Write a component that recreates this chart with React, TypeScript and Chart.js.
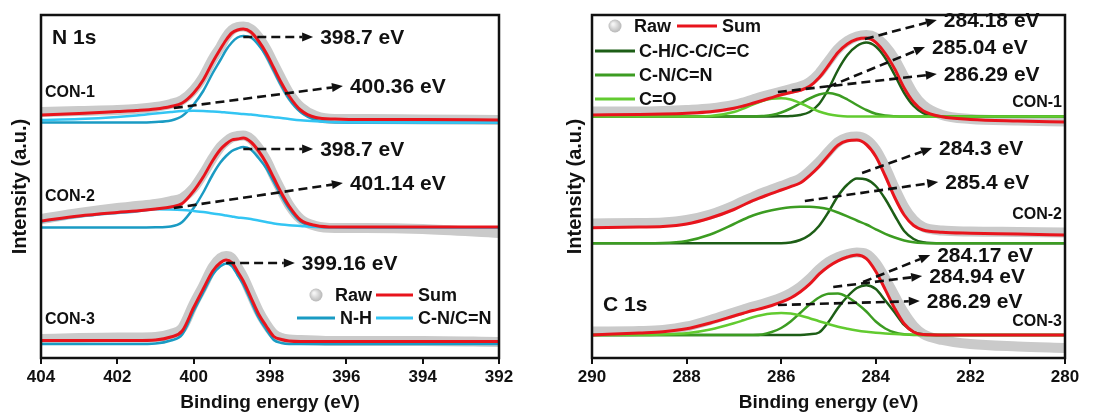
import React, { useEffect, useRef } from 'react';
import { Chart, registerables } from 'chart.js';

Chart.register(...registerables);

const FONT = "'Liberation Sans', Arial, Helvetica, sans-serif";
const INK = '#111111';
const C_RAW = '#cacaca';
const C_SUM = '#e8141c';
const C_NH = '#1a9bc3';
const C_CN = '#33c5f3';
const C_CH = '#1d5e16';
const C_CNC = '#3c9c22';
const C_CO = '#62cb30';

// ---------------- N 1s panel ----------------
const nEnergy = [404, 403, 402, 401.5, 401, 400.6, 400.3, 400, 399.75, 399.5, 399.3, 399.15, 399, 398.85, 398.7, 398.5, 398.3, 398.1, 397.9, 397.7, 397.5, 397.2, 396.8, 396.3, 395.5, 394, 392];

const nCon1Raw = [246, 247, 248, 249, 251, 254, 258, 268, 281, 299, 311, 321, 328, 331, 331.5, 329, 321, 309, 294, 279, 265, 251, 242, 239, 239, 238.5, 238];
const nCon1Sum = [243, 244.5, 246.5, 247.5, 249, 251.5, 255, 265, 278, 296, 309, 318, 325, 328, 329, 326, 317, 305, 290, 275, 262, 248, 240.5, 239, 238.5, 238.5, 238];
const nCon1NH = [235.5, 235.5, 235.5, 235.5, 236, 237.5, 242, 253.5, 267, 285, 298, 308, 315.5, 320.5, 322, 320.5, 313, 302, 287, 272, 259, 246, 238, 235.7, 235.5, 235.5, 235.5];
const nCon1CN = [238, 239, 241, 242.5, 244.5, 246, 247, 247.2, 247, 246.5, 246, 245.5, 245, 244.5, 244, 243.5, 242.5, 241.7, 240.8, 240, 239, 237.7, 236.7, 236, 235.7, 235.5, 235.5];

const nCon2Raw = [139, 145, 150, 152, 154, 157, 160, 170, 184, 200, 211, 216.5, 220.5, 222, 222.5, 219, 210, 198, 182, 167, 153, 139, 132, 130, 130, 129, 125];
const nCon2Sum = [137, 142, 145.5, 147, 149, 151, 154.5, 167, 181, 197.5, 208.5, 214, 218, 219, 220, 216, 207, 195, 180, 165, 152, 138, 132.5, 131, 131, 131, 131];
const nCon2NH = [130.5, 130.5, 130.5, 130.5, 130.7, 131.5, 136, 150, 165.5, 183.5, 195.5, 202, 207, 209.5, 211, 208.5, 200, 190, 176, 162, 149.5, 136.5, 131.5, 130.7, 130.5, 130.5, 130.5];
const nCon2CN = [136.5, 141.5, 145, 146.5, 148.7, 148.5, 148, 147, 146, 144.5, 143.5, 142.5, 141.5, 140.5, 140, 139, 137.5, 136, 134.5, 133.5, 132.8, 132, 131, 130.7, 130.5, 130.5, 130.5];

const nCon3Raw = [19, 20, 20.5, 20.5, 21, 24, 30, 54, 72, 91, 100, 102, 100, 91, 81, 64, 47, 34, 24, 20, 18.5, 18, 17.5, 17, 17, 17, 16];
const nCon3Sum = [17.5, 17.5, 17.5, 17.5, 18, 21, 27, 50.5, 69, 87, 95.2, 98, 95.4, 86.5, 77, 60.4, 44, 32, 21.5, 18.5, 17, 16.5, 16.5, 16.5, 16.5, 16.5, 16.5];
const nCon3NH = [14, 14, 14, 14, 14.5, 17.5, 23.5, 47, 65.5, 83.5, 91.7, 94.5, 92, 83, 73.5, 57, 40.5, 28.5, 18, 15, 14, 14, 14, 14, 14, 14, 14];

const nPeakLabels = ['398.7 eV', '400.36 eV', '398.7 eV', '401.14 eV', '399.16 eV'];
const nArrowFromE = [398.7, 400.52, 398.7, 400.52, 399.15];
const nArrowFromI = [321, 250, 209, 150, 95];
const nArrowToE = [396.87, 396.09, 396.87, 396.09, 397.35];
const nArrowToI = [321, 272, 209, 175, 95];

const sampleNames = ['CON-1', 'CON-2', 'CON-3'];
const nSampleLabelI = [265, 161, 38];

// ---------------- C 1s panel ----------------
const cEnergy = [290, 289, 288.5, 288, 287.5, 287, 286.8, 286.6, 286.4, 286.2, 286, 285.8, 285.6, 285.4, 285.2, 285, 284.8, 284.6, 284.4, 284.2, 284, 283.8, 283.6, 283.4, 283.2, 283, 282.6, 282, 281, 280];

const cCon1Raw = [246.5, 246.5, 247, 248, 249.5, 253, 255.5, 258.5, 261.5, 264, 266.5, 269, 271.5, 276, 284.5, 297, 309, 317, 321.5, 323, 320.5, 312, 299, 281, 264, 253, 243, 239, 237.5, 236.5];
const cCon1Sum = [243, 243.5, 244, 244.8, 246.2, 249.7, 252, 254.7, 257.5, 260.4, 263.2, 265.5, 267.7, 271.7, 280.2, 292.5, 305.5, 314, 318.8, 320, 315.7, 304.5, 289, 270, 255.7, 247.3, 241.2, 238.6, 237, 236];
const cCon1CH = [241.5, 241.5, 241.5, 241.5, 241.5, 241.5, 241.5, 241.5, 241.5, 241.5, 241.7, 242, 243, 246, 254, 269, 288, 303, 312, 315.5, 311.5, 300, 283, 265, 252, 245, 241.7, 241.5, 241.5, 241.5];
const cCon1CN = [241.5, 241.5, 241.5, 241.5, 241.5, 241.5, 241.5, 241.5, 242, 243, 245.5, 249.5, 254.5, 259.5, 263.5, 265, 263, 258.5, 253, 248, 244.2, 242.5, 241.8, 241.5, 241.5, 241.5, 241.5, 241.5, 241.5, 241.5];
const cCon1CO = [241.5, 241.5, 241.5, 241.5, 242, 246, 249.5, 253.5, 257, 259.2, 259.8, 258.5, 255, 250.5, 246.5, 243.7, 242.2, 241.5, 241.5, 241.5, 241.5, 241.5, 241.5, 241.5, 241.5, 241.5, 241.5, 241.5, 241.5, 241.5];

const cCon2Raw = [134.5, 135, 135.5, 138, 143.5, 152.5, 157, 161, 165, 168.5, 172, 175.5, 179.5, 187, 196, 206.5, 216, 220.5, 221.5, 218.5, 208.5, 191, 170, 151, 138, 131, 127.5, 126.5, 126, 125.5];
const cCon2Sum = [130.3, 131, 131.5, 134, 140, 148.5, 153, 157.3, 161, 164.7, 168, 171.4, 175, 182.4, 191.5, 202.5, 212.7, 217.3, 218, 213.5, 201.5, 182, 160.5, 143, 132.5, 128, 125.7, 124.8, 124, 123];
const cCon2CH = [114.7, 114.7, 114.7, 114.7, 114.7, 114.7, 114.7, 114.7, 114.7, 114.7, 114.7, 115.5, 118, 123, 132, 146, 162, 173.5, 179.5, 178.5, 172, 159, 142.5, 127, 119, 115.7, 114.7, 114.7, 114.7, 114.7];
const cCon2CN = [114.7, 114.8, 115, 117, 123.5, 134, 138.5, 142.5, 145.5, 147.7, 149.5, 150.7, 151.2, 151.3, 150.5, 148.7, 145.5, 141.7, 137.5, 133.5, 128.7, 124.2, 120.5, 117.5, 115.7, 115, 114.7, 114.7, 114.7, 114.7];

const cCon3Raw = [26.5, 27, 28, 31.5, 38, 45.5, 48.5, 51.5, 54, 57, 60.5, 65, 71, 79, 88.5, 96, 101, 104, 105.5, 104, 95, 79.5, 62, 45, 32, 24, 18, 14, 11.5, 10];
const cCon3Sum = [23, 25, 26.2, 29.2, 35, 42, 44.8, 47.5, 49.8, 52.5, 55.8, 60, 66, 73.8, 83.8, 91.5, 97.2, 101, 103, 99.3, 86.5, 68.4, 49.6, 34.2, 26, 23.4, 23, 23, 23, 23];
const cCon3CH = [23, 23, 23, 23, 23, 23, 23, 23, 23, 23, 23, 23, 23, 23.7, 25.5, 36, 50, 61.5, 70, 72.8, 69, 57.5, 45.5, 33, 26, 23.7, 23, 23, 23, 23];
const cCon3CN = [23, 23, 23, 23, 23, 23, 23, 23, 23.5, 26, 30, 36.5, 45, 53.5, 60.5, 64.2, 64.5, 61, 54.5, 46.5, 36.5, 29.5, 25.5, 23.7, 23, 23, 23, 23, 23, 23];
const cCon3CO = [23, 23, 23.5, 24.7, 28.5, 34.7, 37.7, 40.8, 43, 44.4, 45, 44.4, 42.5, 39.8, 36.8, 34, 31.2, 29.2, 27.5, 26.2, 25.2, 24.5, 24, 23.6, 23.3, 23, 23, 23, 23, 23];

const cPeakLabels = ['284.18 eV', '285.04 eV', '286.29 eV', '284.3 eV', '285.4 eV', '284.17 eV', '284.94 eV', '286.29 eV'];
const cArrowFromE = [284.23, 285.01, 286.07, 284.29, 285.5, 284.27, 284.9, 286.07];
const cArrowFromI = [319, 271, 266, 185, 157, 76, 71, 53];
const cArrowToE = [282.71, 282.96, 282.71, 282.81, 282.68, 282.85, 283.02, 283.07];
const cArrowToI = [338, 311, 284, 210, 176, 103, 82, 57];
const cSampleLabelI = [255, 143, 36];

// ---------------- helpers ----------------
type Series = { values: number[]; color: string; width: number; order: number };
type LegendItem = { kind: 'circle' | 'line'; color: string; row: number; x1: number; x2: number; tx: number; text: string };
type Panel = {
  energy: number[];
  xMin: number;
  xMax: number;
  yAxisWidth: number;
  padRight: number;
  titlePad: number;
  series: Series[];
  peakLabels: string[];
  fromE: number[];
  fromI: number[];
  toE: number[];
  toI: number[];
  sampleI: number[];
  sampleAlign: 'left' | 'right';
  title: string;
  titleI: number;
  legend: LegendItem[];
  legendRows: number[];
};

function sampleSeries(raw: number[], sum: number[], comps: [number[], string][]): Series[] {
  const out: Series[] = [{ values: raw, color: C_RAW, width: 10, order: 3 }];
  comps.forEach(([v, c]) => out.push({ values: v, color: c, width: 2.5, order: 2 }));
  out.push({ values: sum, color: C_SUM, width: 3, order: 1 });
  return out;
}

const nPanel: Panel = {
  energy: nEnergy,
  xMin: 392,
  xMax: 404,
  yAxisWidth: 41,
  padRight: 51,
  titlePad: 8,
  series: [
    ...sampleSeries(nCon1Raw, nCon1Sum, [[nCon1CN, C_CN], [nCon1NH, C_NH]]),
    ...sampleSeries(nCon2Raw, nCon2Sum, [[nCon2CN, C_CN], [nCon2NH, C_NH]]),
    ...sampleSeries(nCon3Raw, nCon3Sum, [[nCon3NH, C_NH]]),
  ],
  peakLabels: nPeakLabels,
  fromE: nArrowFromE,
  fromI: nArrowFromI,
  toE: nArrowToE,
  toI: nArrowToI,
  sampleI: nSampleLabelI,
  sampleAlign: 'left',
  title: 'N 1s',
  titleI: 320,
  legend: [
    { kind: 'circle', color: C_RAW, row: 0, x1: 275, x2: 275, tx: 294, text: 'Raw' },
    { kind: 'line', color: C_SUM, row: 0, x1: 335, x2: 372, tx: 377, text: 'Sum' },
    { kind: 'line', color: C_NH, row: 1, x1: 256, x2: 294, tx: 299, text: 'N-H' },
    { kind: 'line', color: C_CN, row: 1, x1: 335, x2: 372, tx: 377, text: 'C-N/C=N' },
  ],
  legendRows: [280, 303],
};

const cPanel: Panel = {
  energy: cEnergy,
  xMin: 280,
  xMax: 290,
  yAxisWidth: 42,
  padRight: 36,
  titlePad: 13,
  series: [
    ...sampleSeries(cCon1Raw, cCon1Sum, [[cCon1CO, C_CO], [cCon1CN, C_CNC], [cCon1CH, C_CH]]),
    ...sampleSeries(cCon2Raw, cCon2Sum, [[cCon2CN, C_CNC], [cCon2CH, C_CH]]),
    ...sampleSeries(cCon3Raw, cCon3Sum, [[cCon3CO, C_CO], [cCon3CN, C_CNC], [cCon3CH, C_CH]]),
  ],
  peakLabels: cPeakLabels,
  fromE: cArrowFromE,
  fromI: cArrowFromI,
  toE: cArrowToE,
  toI: cArrowToI,
  sampleI: cSampleLabelI,
  sampleAlign: 'right',
  title: 'C 1s',
  titleI: 53,
  legend: [
    { kind: 'circle', color: C_RAW, row: 0, x1: 23, x2: 23, tx: 42, text: 'Raw' },
    { kind: 'line', color: C_SUM, row: 0, x1: 85, x2: 125, tx: 130, text: 'Sum' },
    { kind: 'line', color: C_CH, row: 1, x1: 3, x2: 43, tx: 47, text: 'C-H/C-C/C=C' },
    { kind: 'line', color: C_CNC, row: 2, x1: 3, x2: 43, tx: 47, text: 'C-N/C=N' },
    { kind: 'line', color: C_CO, row: 3, x1: 3, x2: 43, tx: 47, text: 'C=O' },
  ],
  legendRows: [11, 36, 60, 84],
};

function drawArrow(ctx: CanvasRenderingContext2D, x1: number, y1: number, x2: number, y2: number) {
  const ang = Math.atan2(y2 - y1, x2 - x1);
  const head = 11;
  const bx = x2 - head * Math.cos(ang);
  const by = y2 - head * Math.sin(ang);
  ctx.save();
  ctx.strokeStyle = INK;
  ctx.lineWidth = 2.6;
  ctx.setLineDash([9, 5]);
  ctx.beginPath();
  ctx.moveTo(x1, y1);
  ctx.lineTo(bx, by);
  ctx.stroke();
  ctx.setLineDash([]);
  ctx.fillStyle = INK;
  ctx.beginPath();
  ctx.moveTo(x2, y2);
  ctx.lineTo(bx + 4.5 * Math.sin(ang), by - 4.5 * Math.cos(ang));
  ctx.lineTo(bx - 4.5 * Math.sin(ang), by + 4.5 * Math.cos(ang));
  ctx.closePath();
  ctx.fill();
  ctx.restore();
}

function decorPlugin(p: Panel) {
  return {
    id: 'panelDecor',
    afterDraw(chart: any) {
      const { ctx, chartArea: a, scales } = chart;
      const xs = scales.x;
      const ys = scales.y;
      ctx.save();
      ctx.beginPath();
      ctx.rect(a.left - 2, a.top - 12, a.right - a.left + 4, a.bottom - a.top + 12);
      ctx.clip();
      ctx.font = `bold 21px ${FONT}`;
      ctx.textBaseline = 'middle';
      ctx.textAlign = 'left';
      ctx.fillStyle = INK;
      p.peakLabels.forEach((lab, i) => {
        const x1 = xs.getPixelForValue(p.fromE[i]);
        const y1 = ys.getPixelForValue(p.fromI[i]);
        const x2 = xs.getPixelForValue(p.toE[i]);
        const y2 = ys.getPixelForValue(p.toI[i]);
        drawArrow(ctx, x1, y1, x2, y2);
        ctx.fillStyle = INK;
        ctx.fillText(lab, x2 + 7, y2 + 1);
      });
      ctx.font = `bold 16px ${FONT}`;
      ctx.textAlign = p.sampleAlign;
      sampleNames.forEach((s, i) => {
        const x = p.sampleAlign === 'left' ? a.left + 4 : a.right - 3;
        ctx.fillText(s, x, ys.getPixelForValue(p.sampleI[i]));
      });
      ctx.font = `bold 21px ${FONT}`;
      ctx.textAlign = 'left';
      ctx.fillText(p.title, a.left + 11, ys.getPixelForValue(p.titleI));
      ctx.font = `bold 18px ${FONT}`;
      p.legend.forEach((it) => {
        const y = a.top + p.legendRows[it.row];
        if (it.kind === 'circle') {
          const cx = a.left + it.x1;
          const g = ctx.createRadialGradient(cx - 2, y - 2, 1, cx, y, 7);
          g.addColorStop(0, '#f4f4f4');
          g.addColorStop(1, '#b4b4b4');
          ctx.fillStyle = g;
          ctx.beginPath();
          ctx.arc(cx, y, 6.5, 0, Math.PI * 2);
          ctx.fill();
        } else {
          ctx.strokeStyle = it.color;
          ctx.lineWidth = 3;
          ctx.beginPath();
          ctx.moveTo(a.left + it.x1, y);
          ctx.lineTo(a.left + it.x2, y);
          ctx.stroke();
        }
        ctx.fillStyle = INK;
        ctx.fillText(it.text, a.left + it.tx, y + 1);
      });
      ctx.restore();
      ctx.save();
      ctx.strokeStyle = INK;
      ctx.lineWidth = 2.5;
      ctx.strokeRect(a.left, a.top, a.right - a.left, a.bottom - a.top);
      ctx.restore();
    },
  };
}

function buildConfig(p: Panel): any {
  return {
    type: 'line',
    data: {
      datasets: p.series.map((s) => ({
        data: p.energy.map((e, i) => ({ x: e, y: s.values[i] })),
        borderColor: s.color,
        borderWidth: s.width,
        pointRadius: 0,
        fill: false,
        cubicInterpolationMode: 'monotone',
        order: s.order,
        borderCapStyle: 'round',
        borderJoinStyle: 'round',
      })),
    },
    options: {
      responsive: false,
      animation: false,
      events: [],
      layout: { padding: { top: 15, right: p.padRight, left: 0, bottom: 0 } },
      plugins: { legend: { display: false }, tooltip: { enabled: false } },
      scales: {
        x: {
          type: 'linear',
          reverse: true,
          min: p.xMin,
          max: p.xMax,
          afterFit: (s: any) => {
            s.height = 58;
          },
          grid: { display: true, drawOnChartArea: false, drawTicks: true, tickLength: 6, color: INK, lineWidth: 2 },
          border: { display: false },
          ticks: {
            stepSize: 2,
            autoSkip: false,
            maxRotation: 0,
            color: INK,
            padding: 3,
            font: { family: FONT, size: 17, weight: 'bold' },
          },
          title: {
            display: true,
            text: 'Binding energy (eV)',
            color: INK,
            font: { family: FONT, size: 19, weight: 'bold' },
            padding: { top: 0, bottom: 2 },
          },
        },
        y: {
          type: 'linear',
          min: 0,
          max: 343,
          afterFit: (s: any) => {
            s.width = p.yAxisWidth;
          },
          grid: { display: false },
          border: { display: false },
          ticks: { display: false },
          title: {
            display: true,
            text: 'Intensity (a.u.)',
            color: INK,
            font: { family: FONT, size: 20, weight: 'bold' },
            padding: { top: p.titlePad, bottom: 0 },
          },
        },
      },
    },
    plugins: [decorPlugin(p)],
  };
}

export default function App() {
  const leftRef = useRef<HTMLCanvasElement>(null);
  const rightRef = useRef<HTMLCanvasElement>(null);
  useEffect(() => {
    const c1 = new Chart(leftRef.current as HTMLCanvasElement, buildConfig(nPanel));
    const c2 = new Chart(rightRef.current as HTMLCanvasElement, buildConfig(cPanel));
    return () => {
      c1.destroy();
      c2.destroy();
    };
  }, []);
  return (
    <div style={{ position: 'absolute', left: 0, top: 0, width: 1101, height: 416, background: '#ffffff' }}>
      <canvas ref={leftRef} width={550} height={416} style={{ position: 'absolute', left: 0, top: 0 }} />
      <canvas ref={rightRef} width={551} height={416} style={{ position: 'absolute', left: 550, top: 0 }} />
    </div>
  );
}
